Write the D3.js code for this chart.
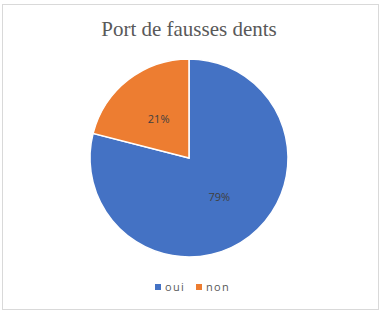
<!DOCTYPE html>
<html>
<head>
<meta charset="utf-8">
<script src="https://cdn.jsdelivr.net/npm/d3@7"></script>
<style>
  body { margin: 0; background: #fff; }
</style>
</head>
<body>
<div id="chart"></div>
<script>
// chart data
const categories = ["oui", "non"];
const values = [79, 21];
const colors = ["#4472C4", "#ED7D31"];
const title = "Port de fausses dents";

const width = 383, height = 314;
const cx = 189, cy = 158, radius = 99;

const svg = d3.select("#chart").append("svg")
    .attr("width", width)
    .attr("height", height);

// outer frame
svg.append("rect")
    .attr("x", 2.5).attr("y", 4.5)
    .attr("width", 376).attr("height", 305)
    .attr("fill", "#fff")
    .attr("stroke", "#d9d9d9")
    .attr("stroke-width", 1);

svg.append("text")
    .attr("x", cx)
    .attr("y", 36)
    .attr("text-anchor", "middle")
    .attr("font-family", "'Liberation Serif', 'Times New Roman', serif")
    .attr("font-size", 21)
    .attr("fill", "#595959")
    .text(title);

const data = categories.map((c, i) => ({ name: c, value: values[i], color: colors[i] }));

const pie = d3.pie().sort(null).value(d => d.value);
const arc = d3.arc().innerRadius(0).outerRadius(radius);
const labelArc = d3.arc().innerRadius(radius * 0.5).outerRadius(radius * 0.5);

const g = svg.append("g").attr("transform", `translate(${cx},${cy})`);
const arcs = pie(data);

g.selectAll("path")
    .data(arcs)
    .join("path")
    .attr("d", arc)
    .attr("fill", d => d.data.color)
    .attr("stroke", "#fff")
    .attr("stroke-width", 1.5);

g.selectAll("text.lbl")
    .data(arcs)
    .join("text")
    .attr("class", "lbl")
    .attr("transform", d => `translate(${labelArc.centroid(d)})`)
    .attr("text-anchor", "middle")
    .attr("dy", "0.35em")
    .attr("font-family", "'Open Sans', 'Liberation Sans', sans-serif")
    .attr("font-size", 11)
    .attr("fill", "#404040")
    .text(d => d.data.value + "%");

// legend
const legend = svg.append("g").attr("transform", "translate(155,287)");
const legendX = [0, 41];
categories.forEach((c, i) => {
    const item = legend.append("g").attr("transform", `translate(${legendX[i]},0)`);
    item.append("rect")
        .attr("x", 0).attr("y", -3)
        .attr("width", 6).attr("height", 6)
        .attr("fill", colors[i]);
    item.append("text")
        .attr("x", 10).attr("y", 0)
        .attr("dy", "0.35em")
        .attr("font-family", "'Open Sans', 'Liberation Sans', sans-serif")
        .attr("font-size", 11)
        .attr("letter-spacing", 1.3)
        .attr("fill", "#595959")
        .text(c);
});
</script>
</body>
</html>
